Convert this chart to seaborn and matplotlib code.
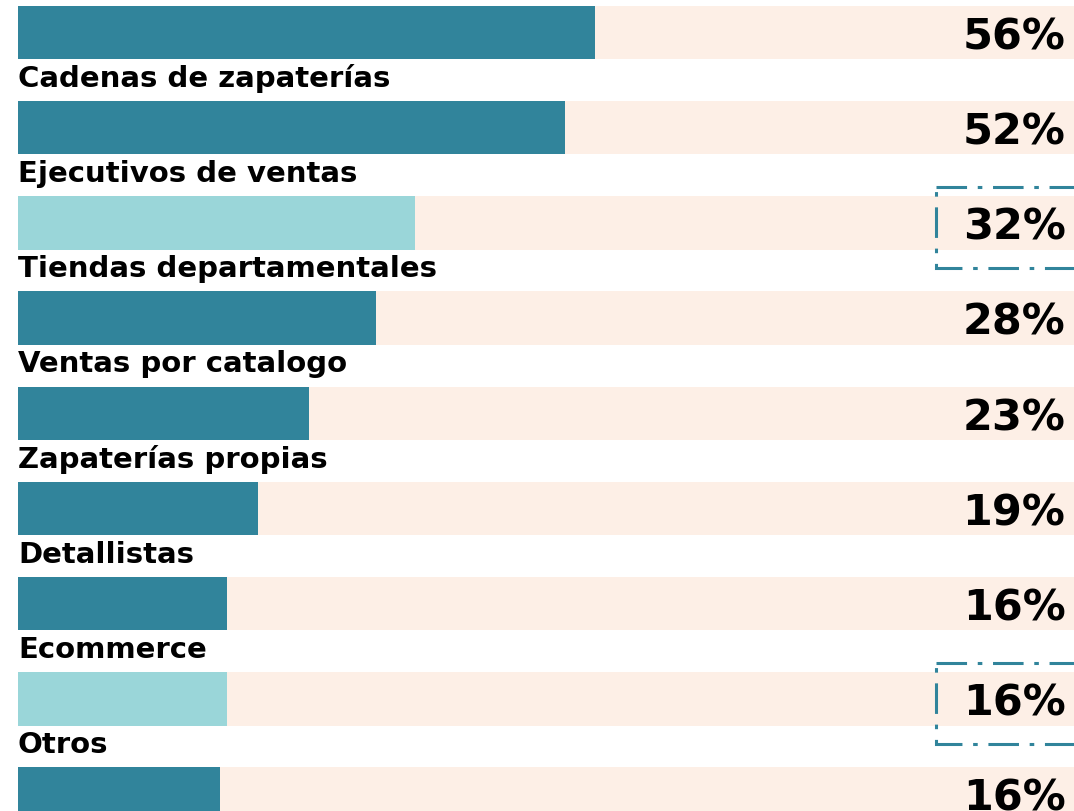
import pandas as pd
import seaborn as sns
import matplotlib.pyplot as plt
from matplotlib.patches import Rectangle

# Dữ liệu
canales = ['Mayoristas', 'Cadenas de zapaterías', 'Ejecutivos de ventas',
           'Tiendas departamentales', 'Ventas por catalogo', 'Zapaterías propias',
           'Detallistas', 'Ecommerce', 'Otros']
etiquetas = ['56%', '52%', '32%', '28%', '23%', '19%', '16%', '16%', '16%']
longitud = [54.6, 51.8, 37.6, 33.9, 27.6, 22.7, 19.8, 19.8, 19.1]  # độ dài thanh
destacado = [False, False, True, False, False, False, False, True, False]

# Tạo DataFrame
canal_data = pd.DataFrame({'canal': canales, 'valor': longitud,
                           'destacado': destacado, 'fondo': 100})

# Màu sắc
oscuro = '#31849B'
claro = '#9AD6D9'
durazno = '#FDEFE6'

# Vẽ biểu đồ thanh ngang
plt.figure(figsize=(10.74, 8.11), dpi=100)
ax = plt.axes([0, 0, 1, 1])
sns.barplot(data=canal_data, x='fondo', y='canal', color=durazno, width=0.56,
            linewidth=0, saturation=1, ax=ax)
sns.barplot(data=canal_data, x='valor', y='canal', hue='destacado',
            palette={False: oscuro, True: claro}, dodge=False, legend=False,
            width=0.56, linewidth=0, saturation=1, ax=ax)

# Nhãn tên và phần trăm
for i, (canal, texto) in enumerate(zip(canales, etiquetas)):
    plt.text(0, i - 0.43, canal, fontsize=21, fontweight='bold',
             ha='left', va='baseline', family='DejaVu Sans')
    plt.text(99.2, i + 0.05, texto, fontsize=31, fontweight='bold',
             ha='right', va='center', family='DejaVu Sans')
    # Khung gạch chấm cho các thanh nổi bật
    if destacado[i]:
        ax.add_patch(Rectangle((86.9, i - 0.38), 15, 0.85, fill=False,
                               edgecolor=oscuro, linewidth=2.2,
                               linestyle=(0, (10, 3.5, 1.5, 3.5)), clip_on=True))

plt.xlim(-1.7, 100)
plt.ylim(8.178, -0.341)
plt.axis('off')
plt.savefig('out.png', dpi=100)
